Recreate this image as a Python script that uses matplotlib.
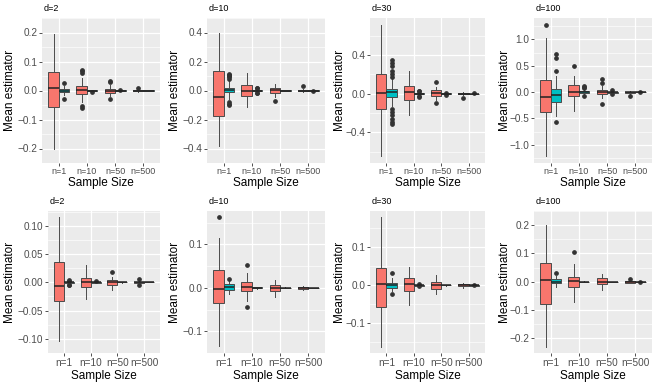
import numpy as np
import matplotlib
matplotlib.use('Agg')
from matplotlib import pyplot as plt

plt.rcParams['font.family'] = ['Liberation Sans', 'DejaVu Sans']

sizes = ['n=1', 'n=10', 'n=50', 'n=500']
dims = ['d=2', 'd=10', 'd=30', 'd=100']

# box stats per sample size: [whislo, q1, median, q3, whishi]
# ---- top row ----
top_d2_red = [[-0.2, -0.057, 0.007, 0.065, 0.195], [-0.04, -0.012, 0.003, 0.015, 0.042],
              [-0.02, -0.008, 0.0, 0.006, 0.018], [-0.004, -0.002, 0.0, 0.002, 0.004]]
top_d2_red_out = [[], [0.07, 0.066, 0.06, -0.055, -0.06], [0.032, 0.028, -0.028], [0.01]]
top_d2_teal = [[-0.015, -0.005, 0.0, 0.005, 0.015], [-0.002, -0.001, 0.0, 0.001, 0.002],
               [-0.001, -0.0005, 0.0, 0.0005, 0.001], [-0.0005, -0.0002, 0.0, 0.0002, 0.0005]]
top_d2_teal_out = [[0.025, -0.03], [-0.004], [0.001], []]

top_d10_red = [[-0.385, -0.175, -0.045, 0.135, 0.4], [-0.115, -0.04, 0.0, 0.035, 0.12],
               [-0.045, -0.02, 0.005, 0.015, 0.045], [-0.01, -0.003, 0.0, 0.003, 0.01]]
top_d10_red_out = [[], [], [-0.07], [0.032]]
top_d10_teal = [[-0.06, -0.01, 0.005, 0.02, 0.07], [-0.01, -0.004, 0.0, 0.004, 0.01],
                [-0.003, -0.001, 0.0, 0.001, 0.003], [-0.002, -0.001, 0.0, 0.001, 0.002]]
top_d10_teal_out = [[0.08, 0.09, 0.1, 0.105, 0.11, 0.115, -0.08, -0.09, -0.1],
                    [0.02, 0.015, -0.015, -0.02], [], [0.0]]

top_d30_red = [[-0.65, -0.16, 0.005, 0.2, 0.716], [-0.22, -0.07, 0.02, 0.08, 0.23],
               [-0.07, -0.02, 0.01, 0.04, 0.07], [-0.015, -0.005, 0.0, 0.005, 0.015]]
top_d30_red_out = [[], [], [0.12, -0.1], [-0.04]]
top_d30_teal = [[-0.13, -0.03, 0.015, 0.05, 0.15], [-0.015, -0.005, 0.0, 0.005, 0.015],
                [-0.008, -0.003, 0.0, 0.003, 0.008], [-0.003, -0.001, 0.0, 0.001, 0.003]]
top_d30_teal_out = [[0.35, 0.32, 0.29, 0.24, 0.2, 0.17, -0.16, -0.19, -0.22, -0.26, -0.29, -0.31],
                    [0.03, 0.025, -0.025, -0.03], [0.01, -0.01], [0.002]]

top_d100_red = [[-1.22, -0.37, -0.09, 0.22, 1.03], [-0.35, -0.08, 0.01, 0.13, 0.3],
                [-0.12, -0.04, 0.0, 0.04, 0.12], [-0.03, -0.01, -0.005, 0.005, 0.02]]
top_d100_red_out = [[1.28], [0.49], [0.24, 0.18, -0.22], [-0.07]]
top_d100_teal = [[-0.45, -0.18, -0.05, 0.05, 0.3], [-0.05, -0.02, 0.0, 0.02, 0.06],
                 [-0.02, -0.008, 0.0, 0.008, 0.02], [-0.005, -0.002, 0.0, 0.002, 0.005]]
top_d100_teal_out = [[0.72, 0.65, 0.4, -0.57], [0.12, 0.1, 0.08, -0.07], [0.04, -0.03], [0.003]]

# ---- bottom row ----
bot_d2_red = [[-0.103, -0.033, -0.0067, 0.035, 0.115], [-0.03, -0.009, 0.001, 0.008, 0.031],
              [-0.014, -0.004, 0.0, 0.004, 0.01], [-0.002, -0.001, 0.0, 0.001, 0.002]]
bot_d2_red_out = [[], [], [0.018], [0.005, -0.005]]
bot_d2_teal = [[-0.002, -0.001, 0.0, 0.001, 0.002], [-0.001, -0.0005, 0.0, 0.0005, 0.001],
               [-0.0005, -0.0002, 0.0, 0.0002, 0.0005], [-0.0003, -0.0001, 0.0, 0.0001, 0.0003]]
bot_d2_teal_out = [[0.004, 0.003, -0.005, -0.004], [0.002], [], []]

bot_d10_red = [[-0.133, -0.036, -0.003, 0.041, 0.115], [-0.03, -0.008, 0.002, 0.013, 0.035],
               [-0.02, -0.007, -0.001, 0.006, 0.018], [-0.005, -0.002, 0.0, 0.002, 0.005]]
bot_d10_red_out = [[0.162], [0.053, -0.045], [], []]
bot_d10_teal = [[-0.015, -0.004, 0.003, 0.008, 0.015], [-0.003, -0.001, 0.0, 0.001, 0.003],
                [-0.001, -0.0005, 0.0, 0.0005, 0.001], [-0.0005, -0.0002, 0.0, 0.0002, 0.0005]]
bot_d10_teal_out = [[0.021], [], [], []]

bot_d30_red = [[-0.161, -0.056, 0.004, 0.046, 0.178], [-0.051, -0.014, 0.004, 0.018, 0.047],
               [-0.022, -0.009, 0.0, 0.009, 0.027], [-0.006, -0.002, 0.0, 0.002, 0.006]]
bot_d30_red_out = [[], [], [], []]
bot_d30_teal = [[-0.015, -0.008, 0.0, 0.007, 0.02], [-0.003, -0.001, 0.0, 0.001, 0.003],
                [-0.001, -0.0005, 0.0, 0.0005, 0.001], [-0.002, -0.001, 0.0, 0.001, 0.002]]
bot_d30_teal_out = [[0.031, -0.024], [0.003, -0.003], [], [0.001]]

bot_d100_red = [[-0.23, -0.078, 0.006, 0.067, 0.2], [-0.07, -0.018, 0.004, 0.018, 0.063],
                [-0.03, -0.007, 0.0, 0.012, 0.028], [-0.005, -0.003, 0.0, 0.003, 0.004]]
bot_d100_red_out = [[], [0.104], [], [0.009]]
bot_d100_teal = [[-0.02, -0.006, 0.0, 0.009, 0.02], [-0.002, -0.001, 0.0, 0.001, 0.002],
                 [-0.001, -0.0005, 0.0, 0.0005, 0.001], [-0.002, -0.001, 0.0, 0.001, 0.002]]
bot_d100_teal_out = [[0.032], [], [], [0.0]]

# y ticks per panel
top_ticks = [[-0.2, -0.1, 0.0, 0.1, 0.2], [-0.4, -0.2, 0.0, 0.2, 0.4],
             [-0.4, 0.0, 0.4], [-1.0, -0.5, 0.0, 0.5, 1.0]]
top_fmt = ['%.1f', '%.1f', '%.1f', '%.1f']
bot_ticks = [[-0.10, -0.05, 0.0, 0.05, 0.10], [-0.1, 0.0, 0.1],
             [-0.1, 0.0, 0.1], [-0.2, -0.1, 0.0, 0.1, 0.2]]
bot_fmt = ['%.2f', '%.1f', '%.1f', '%.1f']

top_row = [(top_d2_red, top_d2_red_out, top_d2_teal, top_d2_teal_out),
           (top_d10_red, top_d10_red_out, top_d10_teal, top_d10_teal_out),
           (top_d30_red, top_d30_red_out, top_d30_teal, top_d30_teal_out),
           (top_d100_red, top_d100_red_out, top_d100_teal, top_d100_teal_out)]
bot_row = [(bot_d2_red, bot_d2_red_out, bot_d2_teal, bot_d2_teal_out),
           (bot_d10_red, bot_d10_red_out, bot_d10_teal, bot_d10_teal_out),
           (bot_d30_red, bot_d30_red_out, bot_d30_teal, bot_d30_teal_out),
           (bot_d100_red, bot_d100_red_out, bot_d100_teal, bot_d100_teal_out)]

W, H = 657, 385
fig = plt.figure(figsize=(W / 100, H / 100), dpi=100)

RED = '#F8766D'
TEAL = '#00BFC4'
EDGE = '#4a4a4a'


def to_stats(rows, outs):
    return [dict(whislo=r[0], q1=r[1], med=r[2], q3=r[3], whishi=r[4], fliers=o)
            for r, o in zip(rows, outs)]


def panel(l, t, r, b, col_x, data, ticks, fmt, title, xfs, xpad, xlab_y):
    ax = fig.add_axes([l / W, 1 - b / H, (r - l) / W, (b - t) / H])
    ax.set_facecolor('#EBEBEB')
    for s in ax.spines.values():
        s.set_visible(False)
    red, red_out, teal, teal_out = data
    pos = np.arange(1, len(sizes) + 1)
    for rows, outs, fc, off in [(red, red_out, RED, -0.1875), (teal, teal_out, TEAL, 0.1875)]:
        ax.bxp(to_stats(rows, outs), positions=pos + off, widths=0.375, patch_artist=True,
               showcaps=False, manage_ticks=False,
               boxprops=dict(facecolor=fc, edgecolor=EDGE, linewidth=0.7),
               whiskerprops=dict(color=EDGE, linewidth=0.7),
               medianprops=dict(color='#222222', linewidth=1.1),
               flierprops=dict(marker='o', markersize=2.4, markerfacecolor='#333333',
                               markeredgecolor='#333333'))
    allv = [v for rr in (red, teal) for row in rr for v in row]
    allv += [v for oo in (red_out, teal_out) for o in oo for v in o]
    lo, hi = min(allv), max(allv)
    pad = (hi - lo) * 0.05
    ax.set_ylim(lo - pad, hi + pad)
    ax.set_xlim(0.4, len(sizes) + 0.6)
    ax.set_xticks(pos)
    ax.set_xticklabels(sizes, fontsize=xfs, color='#4D4D4D')
    ax.set_yticks(ticks)
    ax.set_yticklabels([(fmt % v).replace('-', '\u2212') if abs(v) > 1e-12 else fmt % 0 for v in ticks],
                       fontsize=7.2, color='#4D4D4D')
    step = ticks[1] - ticks[0]
    minors = np.arange(ticks[0] - step / 2, ticks[-1] + step, step)
    ax.set_yticks(minors, minor=True)
    ax.tick_params(axis='y', which='minor', length=0)
    ax.tick_params(axis='both', which='major', length=2, width=0.6, color='#333333', pad=1.5)
    ax.tick_params(axis='x', pad=xpad)
    ax.grid(True, which='major', color='white', linewidth=0.9)
    ax.grid(True, which='minor', axis='y', color='white', linewidth=0.45)
    ax.set_axisbelow(True)
    ax.set_ylabel('Mean estimator', fontsize=8.5, va='center')
    ax.yaxis.set_label_coords((col_x - l) / (r - l), 0.5)
    ax.set_xlabel('Sample Size', fontsize=8.5, va='center')
    ax.xaxis.set_label_coords(0.5, -(xlab_y - b) / (b - t))
    ax.text(2 / (r - l), 1 + 9.5 / (b - t), title, transform=ax.transAxes,
            fontsize=6.5, va='center', ha='left')
    return ax


top_x = [(42, 160), (207, 325), (370, 485), (534, 652)]
bot_x = [(48, 160), (207, 325), (370, 485), (534, 652)]
col_label_x = [10, 175, 340, 505]

for i in range(4):
    l, r = top_x[i]
    panel(l, 18, r, 163, col_label_x[i], top_row[i], top_ticks[i], top_fmt[i], dims[i], 6.5, 1.0, 183)
    l, r = bot_x[i]
    panel(l, 211, r, 353, col_label_x[i], bot_row[i], bot_ticks[i], bot_fmt[i], dims[i], 7.2, 1.8, 376)

fig.savefig('out.png', dpi=100)
plt.close()
